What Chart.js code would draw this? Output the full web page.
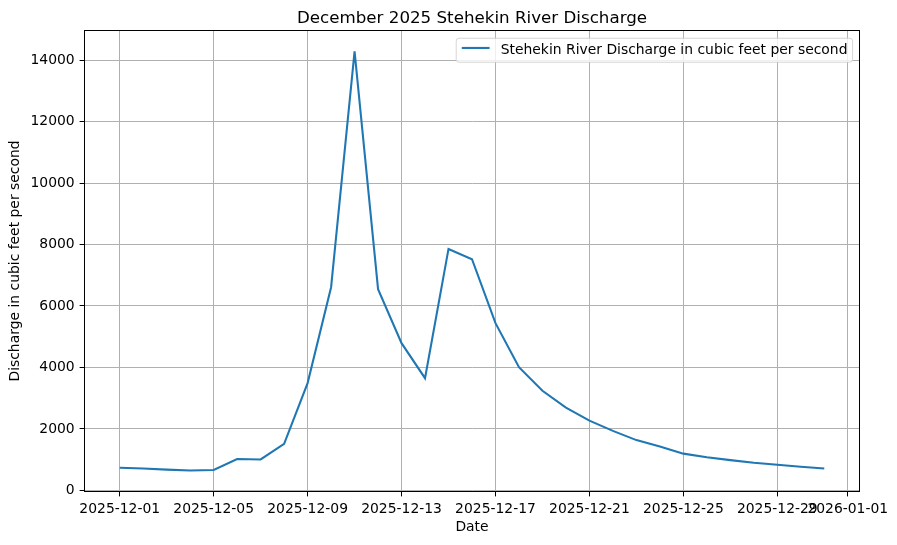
<!DOCTYPE html>
<html>
<head>
<meta charset="utf-8">
<script src="https://cdn.jsdelivr.net/npm/chart.js@4/dist/chart.umd.min.js"></script>
<style>
  html, body { margin: 0; padding: 0; background: #ffffff; }
  canvas { display: block; }
</style>
</head>
<body>
<canvas id="c" width="897" height="545"></canvas>
<script>
// ---- data ----
const dates = [
  '2025-12-01','2025-12-02','2025-12-03','2025-12-04','2025-12-05','2025-12-06','2025-12-07',
  '2025-12-08','2025-12-09','2025-12-10','2025-12-11','2025-12-12','2025-12-13','2025-12-14',
  '2025-12-15','2025-12-16','2025-12-17','2025-12-18','2025-12-19','2025-12-20','2025-12-21',
  '2025-12-22','2025-12-23','2025-12-24','2025-12-25','2025-12-26','2025-12-27','2025-12-28',
  '2025-12-29','2025-12-30','2025-12-31'
];
const discharge = [
  735, 710, 675, 645, 665, 1020, 1005,
  1515, 3490, 6610, 14280, 6545, 4790, 3650,
  7855, 7520, 5440, 4010, 3240, 2695, 2270,
  1935, 1635, 1425, 1195, 1080, 985, 900,
  835, 770, 712
];
const xTickLabels = ['2025-12-01','2025-12-05','2025-12-09','2025-12-13','2025-12-17',
                     '2025-12-21','2025-12-25','2025-12-29','2026-01-01'];
const yTickValues = [0, 2000, 4000, 6000, 8000, 10000, 12000, 14000];
const seriesLabel = 'Stehekin River Discharge in cubic feet per second';
const chartTitle = 'December 2025 Stehekin River Discharge';
const xTitle = 'Date';
const yTitle = 'Discharge in cubic feet per second';

// ---- helpers ----
const DAY = 86400000;
const base = Date.parse(dates[0] + 'T00:00:00Z');
const dayIndex = s => (Date.parse(s + 'T00:00:00Z') - base) / DAY;

const points = dates.map((d, i) => ({ x: dayIndex(d), y: discharge[i] }));
const xs = points.map(p => p.x);
const xMinD = Math.min(...xs), xMaxD = Math.max(...xs);
const xPad = (xMaxD - xMinD) * 0.05;
const yMinD = Math.min(...discharge), yMaxD = Math.max(...discharge);
const yPad = (yMaxD - yMinD) * 0.05;

const FONT = 'DejaVu Sans';
const FS = 13.9;

Chart.defaults.font.family = FONT;
Chart.defaults.font.size = FS;
Chart.defaults.color = '#000000';

const titlePlugin = {
  id: 'mplTitle',
  afterDraw(chart) {
    const { ctx, chartArea } = chart;
    ctx.save();
    ctx.font = '16.7px "' + FONT + '"';
    ctx.fillStyle = '#000';
    ctx.textAlign = 'center';
    ctx.textBaseline = 'alphabetic';
    ctx.fillText(chartTitle, (chartArea.left + chartArea.right) / 2, 22.7);
    ctx.restore();
  }
};

const framePlugin = {
  id: 'mplFrame',
  afterDatasetsDraw(chart) {
    const { ctx, chartArea: a } = chart;
    ctx.save();
    ctx.strokeStyle = '#000';
    ctx.lineWidth = 1;
    ctx.strokeRect(a.left, a.top, a.right - a.left, a.bottom - a.top);
    ctx.restore();
  }
};

const legendPlugin = {
  id: 'mplLegend',
  afterDraw(chart) {
    const { ctx, chartArea: a } = chart;
    const ds = chart.data.datasets[0];
    ctx.save();
    ctx.font = FS + 'px "' + FONT + '"';
    const tw = ctx.measureText(ds.label).width;
    const axPad = 0.5 * FS, bPad = 0.4 * FS, hLen = 2 * FS, hPad = 0.8 * FS;
    const right = a.right - axPad;
    const top = a.top + axPad + 0.8;
    const h = 24;
    const width = bPad * 2 + hLen + hPad + tw - 0.5;
    const left = right - width;
    const r = 2.8;
    ctx.beginPath();
    ctx.moveTo(left + r, top);
    ctx.lineTo(right - r, top);
    ctx.quadraticCurveTo(right, top, right, top + r);
    ctx.lineTo(right, top + h - r);
    ctx.quadraticCurveTo(right, top + h, right - r, top + h);
    ctx.lineTo(left + r, top + h);
    ctx.quadraticCurveTo(left, top + h, left, top + h - r);
    ctx.lineTo(left, top + r);
    ctx.quadraticCurveTo(left, top, left + r, top);
    ctx.closePath();
    ctx.fillStyle = 'rgba(255,255,255,0.8)';
    ctx.fill();
    ctx.strokeStyle = 'rgba(204,204,204,0.8)';
    ctx.lineWidth = 1;
    ctx.stroke();
    const cy = top + h / 2;
    ctx.beginPath();
    ctx.moveTo(left + bPad, cy - 2.3);
    ctx.lineTo(left + bPad + hLen, cy - 2.3);
    ctx.strokeStyle = ds.borderColor;
    ctx.lineWidth = ds.borderWidth;
    ctx.stroke();
    ctx.fillStyle = '#000';
    ctx.textAlign = 'left';
    ctx.textBaseline = 'alphabetic';
    ctx.fillText(ds.label, left + bPad + hLen + hPad, cy + 4.1);
    ctx.restore();
  }
};

new Chart(document.getElementById('c'), {
  type: 'line',
  data: {
    datasets: [{
      label: seriesLabel,
      data: points,
      borderColor: '#1f77b4',
      backgroundColor: '#1f77b4',
      borderWidth: 2.08,
      pointRadius: 0,
      pointHoverRadius: 0,
      tension: 0,
      fill: false
    }]
  },
  options: {
    responsive: false,
    animation: false,
    devicePixelRatio: 1,
    layout: { padding: { top: 30.5, right: 37.5, bottom: 0, left: 0 } },
    plugins: {
      legend: { display: false },
      title: { display: false },
      tooltip: { enabled: false }
    },
    scales: {
      x: {
        type: 'linear',
        min: xMinD - xPad,
        max: xMaxD + xPad,
        afterBuildTicks(scale) {
          scale.ticks = xTickLabels.map(s => ({ value: dayIndex(s) }));
        },
        afterFit(scale) { scale.height = 53.5; },
        ticks: {
          autoSkip: false,
          maxRotation: 0,
          minRotation: 0,
          padding: 4.9,
          color: '#000',
          font: { size: FS },
          callback(value) {
            const lbl = xTickLabels.find(s => dayIndex(s) === value);
            return lbl === undefined ? '' : lbl;
          }
        },
        grid: { color: '#b0b0b0', lineWidth: 1, tickColor: '#000', tickLength: 4.9, tickWidth: 1 },
        border: { display: false },
        title: { display: true, text: xTitle, color: '#000', font: { size: FS }, padding: { top: 0, bottom: 9 } }
      },
      y: {
        type: 'linear',
        min: yMinD - yPad,
        max: yMaxD + yPad,
        afterBuildTicks(scale) {
          scale.ticks = yTickValues.map(v => ({ value: v }));
        },
        afterFit(scale) { scale.width = 84.5; },
        ticks: {
          padding: 4.9,
          color: '#000',
          font: { size: FS },
          callback(value) { return String(value); }
        },
        grid: { color: '#b0b0b0', lineWidth: 1, tickColor: '#000', tickLength: 4.9, tickWidth: 1 },
        border: { display: false },
        title: { display: true, text: yTitle, color: '#000', font: { size: FS }, padding: { top: 7, bottom: 0 } }
      }
    }
  },
  plugins: [titlePlugin, framePlugin, legendPlugin]
});
</script>
</body>
</html>
